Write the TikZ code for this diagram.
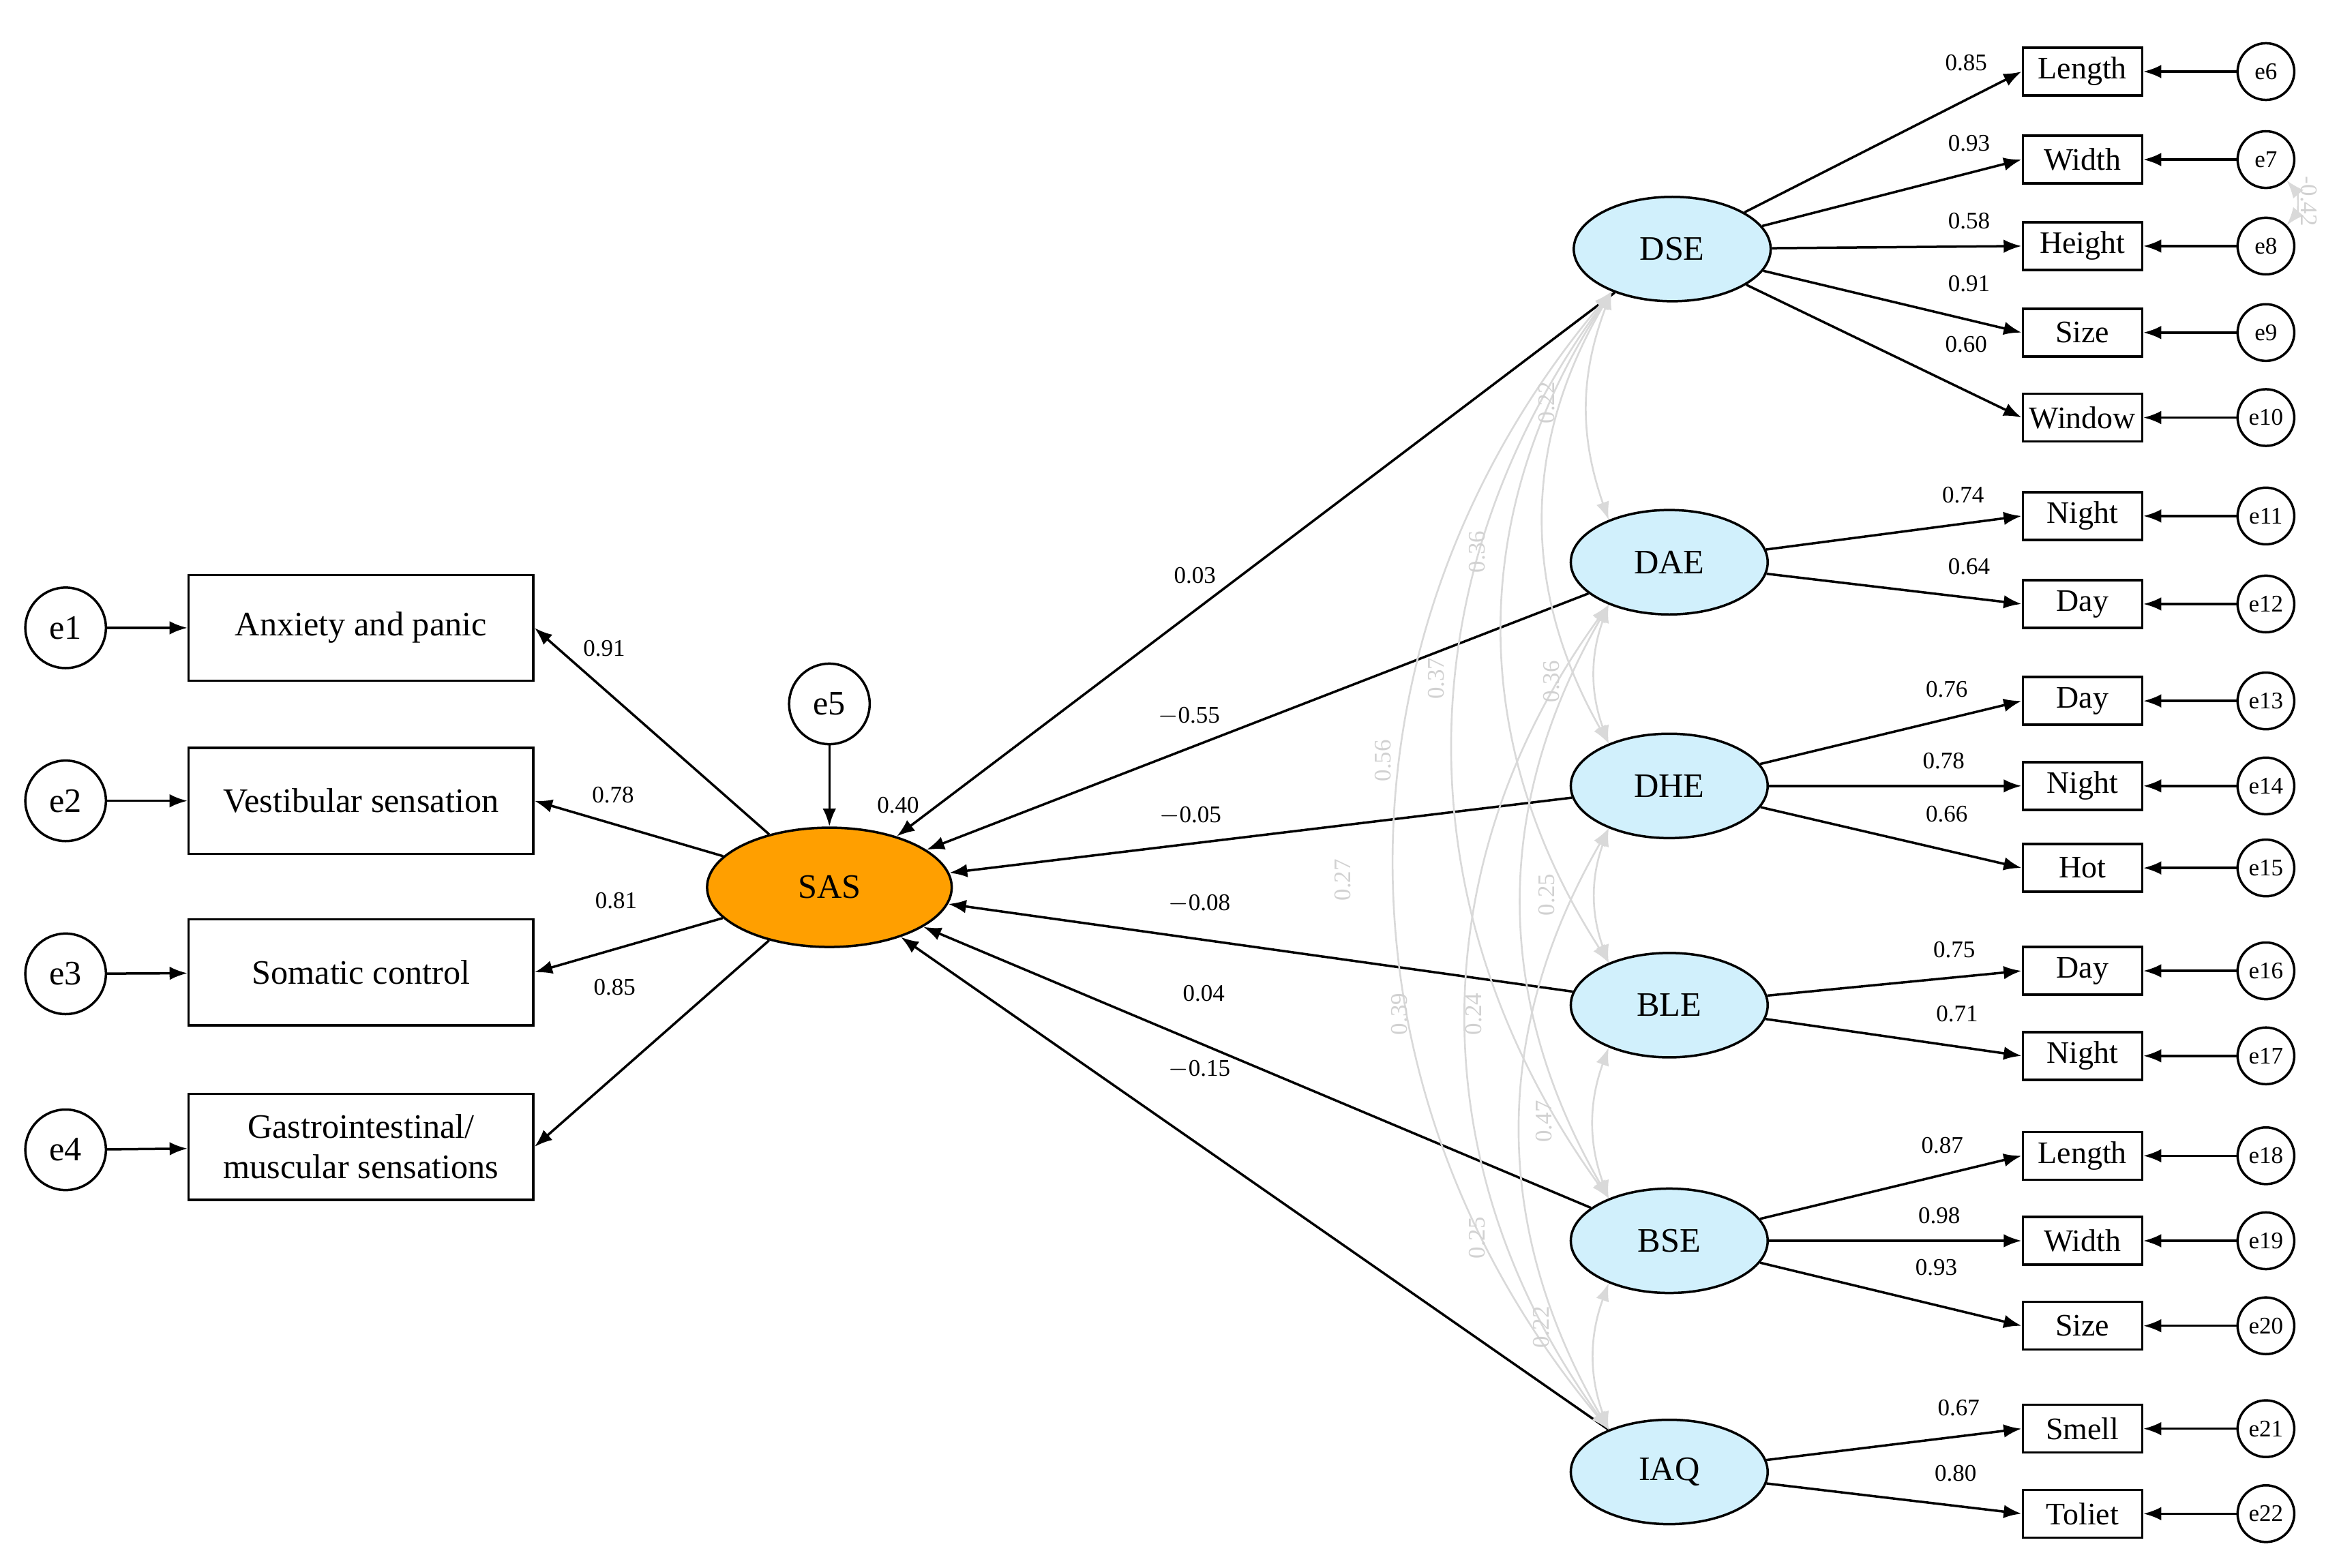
\documentclass[tikz,border=0pt]{standalone}
\usepackage{fontspec}
\setmainfont{Liberation Serif}
\usetikzlibrary{arrows.meta,shapes.geometric}
\begin{document}
\begin{tikzpicture}[x=1pt,y=-1pt,
  every node/.style={inner sep=0pt},
  big/.style={font=\fontsize{23}{27}\selectfont},
  mid/.style={font=\fontsize{21}{24}\selectfont},
  lab/.style={font=\fontsize{16}{18}\selectfont},
  cl/.style={font=\fontsize{16}{18}\selectfont, text=black!18, rotate=90},
  item/.style={draw, line width=1.6pt, minimum width=231pt, minimum height=71pt, big, align=center},
  sitem/.style={draw, line width=1.6pt, minimum width=80pt, minimum height=32pt, mid},
  err/.style={draw, circle, line width=1.6pt, minimum size=54pt, big},
  serr/.style={draw, circle, line width=1.6pt, minimum size=38pt, lab},
  lat/.style={draw, ellipse, line width=1.6pt, minimum width=132pt, minimum height=70pt, fill=cyan!18!white, big},
  ar/.style={-{Latex[length=12pt,width=9pt]}, line width=1.6pt},
  cor/.style={{Latex[length=12pt,width=9pt]}-{Latex[length=12pt,width=9pt]}, draw=black!15, line width=1.2pt}]
\useasboundingbox (0,0) rectangle (1568,1051);
% left side
\node[item] (i1) at (242,421) {Anxiety and panic};
\node[item] (i2) at (242,537) {Vestibular sensation};
\node[item] (i3) at (242,652) {Somatic control};
\node[item, align=center] (i4) at (242,769) {Gastrointestinal/\\muscular sensations};
\node[err] (e1) at (44,421) {e1};
\node[err] (e2) at (44,537) {e2};
\node[err] (e3) at (44,653) {e3};
\node[err] (e4) at (44,771) {e4};
\foreach \i in {1,...,4} \draw[ar] (e\i) -- (i\i);
\node[draw, ellipse, line width=1.6pt, minimum width=164pt, minimum height=80pt, fill=orange!75!yellow, big] (sas) at (556,595) {SAS};
\node[err] (e5) at (556,472) {e5};
\draw[ar] (e5) -- (sas);
\node[lab] at (602,540) {0.40};
\foreach \i in {1,...,4} \draw[ar] (sas) -- (i\i.east);
\node[lab] at (405,435) {0.91};
\node[lab] at (411,533) {0.78};
\node[lab] at (413,604) {0.81};
\node[lab] at (412,662) {0.85};
% latent
\node[lat] (DSE) at (1121,167) {DSE};
\node[lat] (DAE) at (1119,377) {DAE};
\node[lat] (DHE) at (1119,527) {DHE};
\node[lat] (BLE) at (1119,674) {BLE};
\node[lat] (BSE) at (1119,832) {BSE};
\node[lat] (IAQ) at (1119,987) {IAQ};
\foreach \n in {DSE,DAE,DHE,BLE,BSE,IAQ} \draw[ar] (\n) -- (sas);
\node[lab] at (801,386) {0.03};
\node[lab] at (797,480) {$-$0.55};
\node[lab] at (798,547) {$-$0.05};
\node[lab] at (804,606) {$-$0.08};
\node[lab] at (807,666) {0.04};
\node[lab] at (804,717) {$-$0.15};
% indicators
\foreach \t/\y/\k/\f/\v/\lx/\ly in {
 Length/48/6/DSE/0.85/1318/42, Width/107/7/DSE/0.93/1320/96, Height/165/8/DSE/0.58/1320/148,
 Size/223/9/DSE/0.91/1320/190, Window/280/10/DSE/0.60/1318/231,
 Night/346/11/DAE/0.74/1316/332, Day/405/12/DAE/0.64/1320/380,
 Day/470/13/DHE/0.76/1305/462, Night/527/14/DHE/0.78/1303/510, Hot/582/15/DHE/0.66/1305/546,
 Day/651/16/BLE/0.75/1310/637, Night/708/17/BLE/0.71/1312/680,
 Length/775/18/BSE/0.87/1302/768, Width/832/19/BSE/0.98/1300/815, Size/889/20/BSE/0.93/1298/850,
 Smell/958/21/IAQ/0.67/1313/944, Toliet/1015/22/IAQ/0.80/1311/988}{
 \node[sitem] (x\k) at (1396,\y) {\t};
 \node[serr] (e\k) at (1519,\y) {e\k};
 \draw[ar] (e\k) -- (x\k);
 \draw[ar] (\f) -- (x\k.west);
 \node[lab] at (\lx,\ly) {\v};
}
\draw[cor] (e7.south east) to[bend left=40] (e8.north east);
\node[lab, text=black!18, rotate=-90] at (1548,135) {-0.42};
% correlations
\draw[cor] (DSE.215) to[bend right=20] (DAE.145);
\draw[cor] (DAE.215) to[bend right=20] (DHE.145);
\draw[cor] (DHE.215) to[bend right=20] (BLE.145);
\draw[cor] (BLE.215) to[bend right=20] (BSE.145);
\draw[cor] (BSE.215) to[bend right=20] (IAQ.145);
\draw[cor] (DSE.215) to[bend right=30] (DHE.145);
\draw[cor] (DSE.215) to[bend right=33] (BLE.145);
\draw[cor] (DSE.215) to[bend right=36] (BSE.145);
\draw[cor] (DSE.215) to[bend right=40] (IAQ.145);
\draw[cor] (DAE.215) to[bend right=30] (BSE.145);
\draw[cor] (DAE.215) to[bend right=36] (IAQ.145);
\draw[cor] (DHE.215) to[bend right=30] (IAQ.145);
\node[cl] at (1037,270) {0.22};
\node[cl] at (1040,457) {0.36};
\node[cl] at (1037,600) {0.25};
\node[cl] at (1035,752) {0.47};
\node[cl] at (1033,890) {0.22};
\node[cl] at (990,370) {0.36};
\node[cl] at (963,455) {0.37};
\node[cl] at (927,510) {0.56};
\node[cl] at (900,590) {0.27};
\node[cl] at (938,680) {0.39};
\node[cl] at (988,680) {0.24};
\node[cl] at (990,830) {0.25};
\end{tikzpicture}
\end{document}
